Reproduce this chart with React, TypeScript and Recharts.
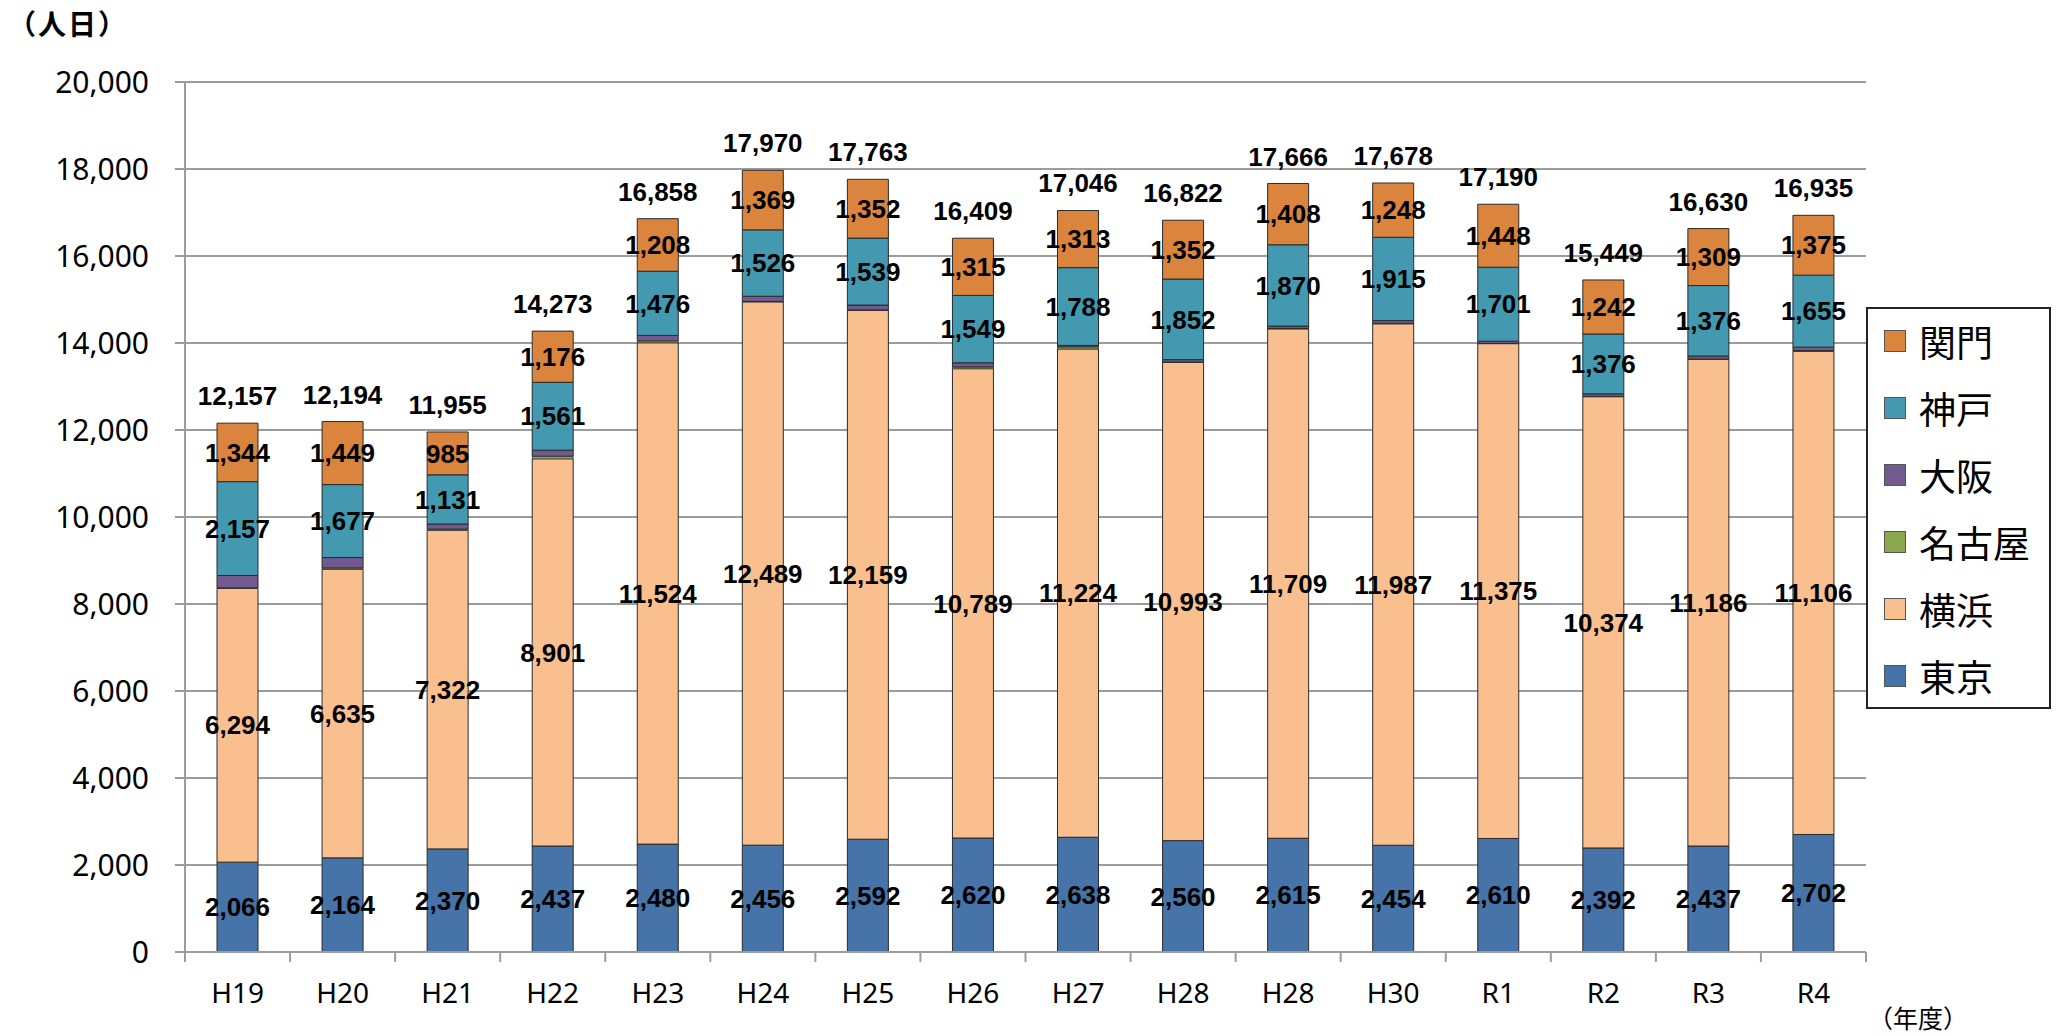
import React from 'react';
import { BarChart, Bar, XAxis, YAxis, CartesianGrid, LabelList, Legend } from 'recharts';

const categories = ['H19', 'H20', 'H21', 'H22', 'H23', 'H24', 'H25', 'H26', 'H27', 'H28', 'H28', 'H30', 'R1', 'R2', 'R3', 'R4'];
const tokyo = [2066, 2164, 2370, 2437, 2480, 2456, 2592, 2620, 2638, 2560, 2615, 2454, 2610, 2392, 2437, 2702];
const yokohama = [6294, 6635, 7322, 8901, 11524, 12489, 12159, 10789, 11224, 10993, 11709, 11987, 11375, 10374, 11186, 11106];
const nagoya = [10, 30, 30, 60, 45, 10, 11, 40, 48, 10, 10, 10, 5, 5, 8, 17];
const osaka = [286, 239, 117, 138, 125, 120, 110, 96, 35, 55, 54, 64, 51, 60, 70, 80];
const kobe = [2157, 1677, 1131, 1561, 1476, 1526, 1539, 1549, 1788, 1852, 1870, 1915, 1701, 1376, 1620, 1655];
// values as printed on the original chart's 神戸 labels
const kobePrinted = [2157, 1677, 1131, 1561, 1476, 1526, 1539, 1549, 1788, 1852, 1870, 1915, 1701, 1376, 1376, 1655];
const kanmon = [1344, 1449, 985, 1176, 1208, 1369, 1352, 1315, 1313, 1352, 1408, 1248, 1448, 1242, 1309, 1375];
const totals = [12157, 12194, 11955, 14273, 16858, 17970, 17763, 16409, 17046, 16822, 17666, 17678, 17190, 15449, 16630, 16935];
const yTicks = [0, 2000, 4000, 6000, 8000, 10000, 12000, 14000, 16000, 18000, 20000];
const legendOrder = ['関門', '神戸', '大阪', '名古屋', '横浜', '東京'];

const data = categories.map((c, i) => ({
  name: c,
  tokyo: tokyo[i],
  yokohama: yokohama[i],
  nagoya: nagoya[i],
  osaka: osaka[i],
  kobe: kobe[i],
  kobeLabel: kobePrinted[i],
  kanmon: kanmon[i],
  total: totals[i],
}));

const W = 2060;
const H = 1036;
const M = { top: 82, right: 194, bottom: 24, left: 65 };
const Y_AXIS_W = 120;
const X_AXIS_H = 60;
const BAND = (W - M.left - Y_AXIS_W - M.right) / categories.length;

const GRID = '#9c9c9c';
const fmt = (v: any) => Number(v).toLocaleString('en-US');

const XTick = (props: any) => {
  const { x, y, payload, index } = props;
  const last = index === categories.length - 1;
  return (
    <g>
      <line x1={x - BAND / 2} x2={x - BAND / 2} y1={y} y2={y + 10} stroke={GRID} strokeWidth={2} />
      {last && <line x1={x + BAND / 2} x2={x + BAND / 2} y1={y} y2={y + 10} stroke={GRID} strokeWidth={2} />}
      <text x={x} y={y + 40} textAnchor="middle" dominantBaseline="central" fontSize={28} fontFamily="'Noto Sans', sans-serif" fill="#000">
        {payload.value}
      </text>
    </g>
  );
};

const renderLegend = (props: any) => {
  const items = [...(props.payload || [])].sort(
    (a: any, b: any) => legendOrder.indexOf(a.value) - legendOrder.indexOf(b.value)
  );
  return (
    <div
      style={{
        width: 185,
        height: 402,
        border: '2px solid #222',
        boxSizing: 'border-box',
        background: '#fff',
        position: 'relative',
      }}
    >
      {items.map((it: any, i: number) => (
        <div
          key={i}
          style={{
            position: 'absolute',
            left: 16,
            top: 32 + i * 67 - 22,
            height: 44,
            display: 'flex',
            alignItems: 'center',
          }}
        >
          <span style={{ display: 'inline-block', width: 22, height: 22, background: it.color, border: '1px solid #555', boxSizing: 'border-box' }} />
          <span style={{ marginLeft: 13, fontSize: 37, lineHeight: '44px', fontFamily: "'Noto Sans CJK JP', sans-serif", color: '#000' }}>{it.value}</span>
        </div>
      ))}
    </div>
  );
};

const labelStyle = {
  fill: '#000',
  fontSize: 26,
  fontWeight: 700,
  fontFamily: "'Liberation Sans', Arial, sans-serif",
};

export default function App() {
  return (
    <div style={{ position: 'absolute', left: 0, top: 0, width: W, height: H, background: '#fff' }}>
      <div
        style={{
          position: 'absolute',
          left: 8,
          top: 3,
          fontSize: 28,
          letterSpacing: 2,
          fontWeight: 700,
          fontFamily: "'Noto Sans CJK JP', sans-serif",
          color: '#000',
        }}
      >
        （人日）
      </div>
      <div
        style={{
          position: 'absolute',
          left: 1868,
          top: 999,
          fontSize: 25,
          fontFamily: "'Noto Sans CJK JP', sans-serif",
          color: '#000',
        }}
      >
        （年度）
      </div>
      <BarChart width={W} height={H} data={data} margin={M} barSize={41}>
        <CartesianGrid horizontal vertical={false} stroke={GRID} strokeWidth={2} />
        <XAxis
          dataKey="name"
          interval={0}
          height={X_AXIS_H}
          tickLine={false}
          tickSize={0}
          tickMargin={0}
          axisLine={{ stroke: GRID, strokeWidth: 2 }}
          tick={<XTick />}
        />
        <YAxis
          width={Y_AXIS_W}
          domain={[0, 20000]}
          ticks={yTicks}
          interval={0}
          tickFormatter={fmt}
          tickSize={10}
          tickMargin={26}
          tickLine={{ stroke: GRID, strokeWidth: 2 }}
          axisLine={{ stroke: GRID, strokeWidth: 2 }}
          tick={{ fill: '#000', fontSize: 30, fontFamily: "'Noto Sans', sans-serif" }}
        />
        <Legend
          layout="vertical"
          align="center"
          verticalAlign="middle"
          wrapperStyle={{ left: 1866, top: 307, width: 185, height: 402 }}
          content={renderLegend}
        />
        <Bar dataKey="tokyo" name="東京" stackId="a" fill="#4673A8" stroke="#2b2b2b" strokeWidth={1} isAnimationActive={false}>
          <LabelList dataKey="tokyo" position="center" formatter={fmt} style={labelStyle} />
        </Bar>
        <Bar dataKey="yokohama" name="横浜" stackId="a" fill="#F9BF8F" stroke="#2b2b2b" strokeWidth={1} isAnimationActive={false}>
          <LabelList dataKey="yokohama" position="center" formatter={fmt} style={labelStyle} />
        </Bar>
        <Bar dataKey="nagoya" name="名古屋" stackId="a" fill="#8AA64E" stroke="#2b2b2b" strokeWidth={0.6} isAnimationActive={false} />
        <Bar dataKey="osaka" name="大阪" stackId="a" fill="#72598F" stroke="#2b2b2b" strokeWidth={1} isAnimationActive={false} />
        <Bar dataKey="kobe" name="神戸" stackId="a" fill="#4299B0" stroke="#2b2b2b" strokeWidth={1} isAnimationActive={false}>
          <LabelList dataKey="kobeLabel" position="center" formatter={fmt} style={labelStyle} />
        </Bar>
        <Bar dataKey="kanmon" name="関門" stackId="a" fill="#DB843D" stroke="#2b2b2b" strokeWidth={1} isAnimationActive={false}>
          <LabelList dataKey="kanmon" position="center" formatter={fmt} style={labelStyle} />
          <LabelList
            dataKey="total"
            position="top"
            offset={18}
            formatter={fmt}
            style={{ fill: '#000', fontSize: 26, fontWeight: 700, fontFamily: "'Liberation Sans', Arial, sans-serif" }}
          />
        </Bar>
      </BarChart>
    </div>
  );
}
